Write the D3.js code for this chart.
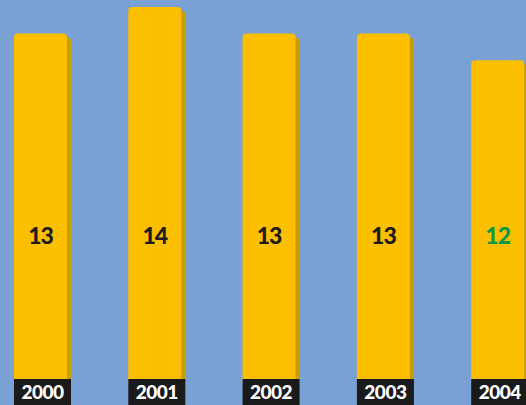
<!DOCTYPE html>
<html>
<head>
<meta charset="utf-8">
<script src="https://cdn.jsdelivr.net/npm/d3@7"></script>
<style>
html,body{margin:0;padding:0;background:#7aa1d4;overflow:hidden;}
svg{display:block;}
</style>
</head>
<body>
<script>
const years = ["2000", "2001", "2002", "2003", "2004"];
const values = [13, 14, 13, 13, 12];
const labelColors = ["#1c1c1c", "#1c1c1c", "#1c1c1c", "#1c1c1c", "#0a9a48"];

const W = 526, H = 405;
const baseY = 379;
const svg = d3.select("body").append("svg").attr("width", W).attr("height", H);
svg.append("rect").attr("width", W).attr("height", H).attr("fill", "#7aa1d4");

const x = d3.scaleBand().domain(years).range([14, 524.2]).paddingInner(1 - 53 / 114.3).paddingOuter(0);
const y = d3.scaleLinear().domain([0, 14]).range([baseY, 7]);

const g = svg.selectAll("g.bar").data(years).join("g").attr("class", "bar");

// shadow
g.append("rect")
  .attr("x", d => x(d) + 4)
  .attr("y", (d, i) => y(values[i]) + 4)
  .attr("width", x.bandwidth())
  .attr("height", (d, i) => baseY - y(values[i]) + 4)
  .attr("rx", 4)
  .attr("fill", "#c99c00");

// bar face
g.append("rect")
  .attr("x", d => x(d))
  .attr("y", (d, i) => y(values[i]))
  .attr("width", x.bandwidth())
  .attr("height", (d, i) => baseY - y(values[i]) + 6)
  .attr("rx", 4)
  .attr("fill", "#fbbf00");

// value labels
g.append("text")
  .attr("x", d => x(d) + x.bandwidth() / 2)
  .attr("y", 244)
  .attr("text-anchor", "middle")
  .attr("font-family", "Lato, sans-serif")
  .attr("font-weight", 900)
  .attr("font-size", 23)
  .attr("letter-spacing", -1)
  .attr("fill", (d, i) => labelColors[i])
  .text((d, i) => values[i]);

// year boxes
g.append("rect")
  .attr("x", d => x(d))
  .attr("y", baseY)
  .attr("width", x.bandwidth() + 4)
  .attr("height", H - baseY)
  .attr("fill", "#1a1a1a");

g.append("text")
  .attr("x", d => x(d) + (x.bandwidth() + 4) / 2)
  .attr("y", 398.5)
  .attr("text-anchor", "middle")
  .attr("font-family", "Lato, sans-serif")
  .attr("font-weight", 900)
  .attr("font-size", 19)
  .attr("letter-spacing", -0.5)
  .attr("fill", "#ffffff")
  .text(d => d);
</script>
</body>
</html>
